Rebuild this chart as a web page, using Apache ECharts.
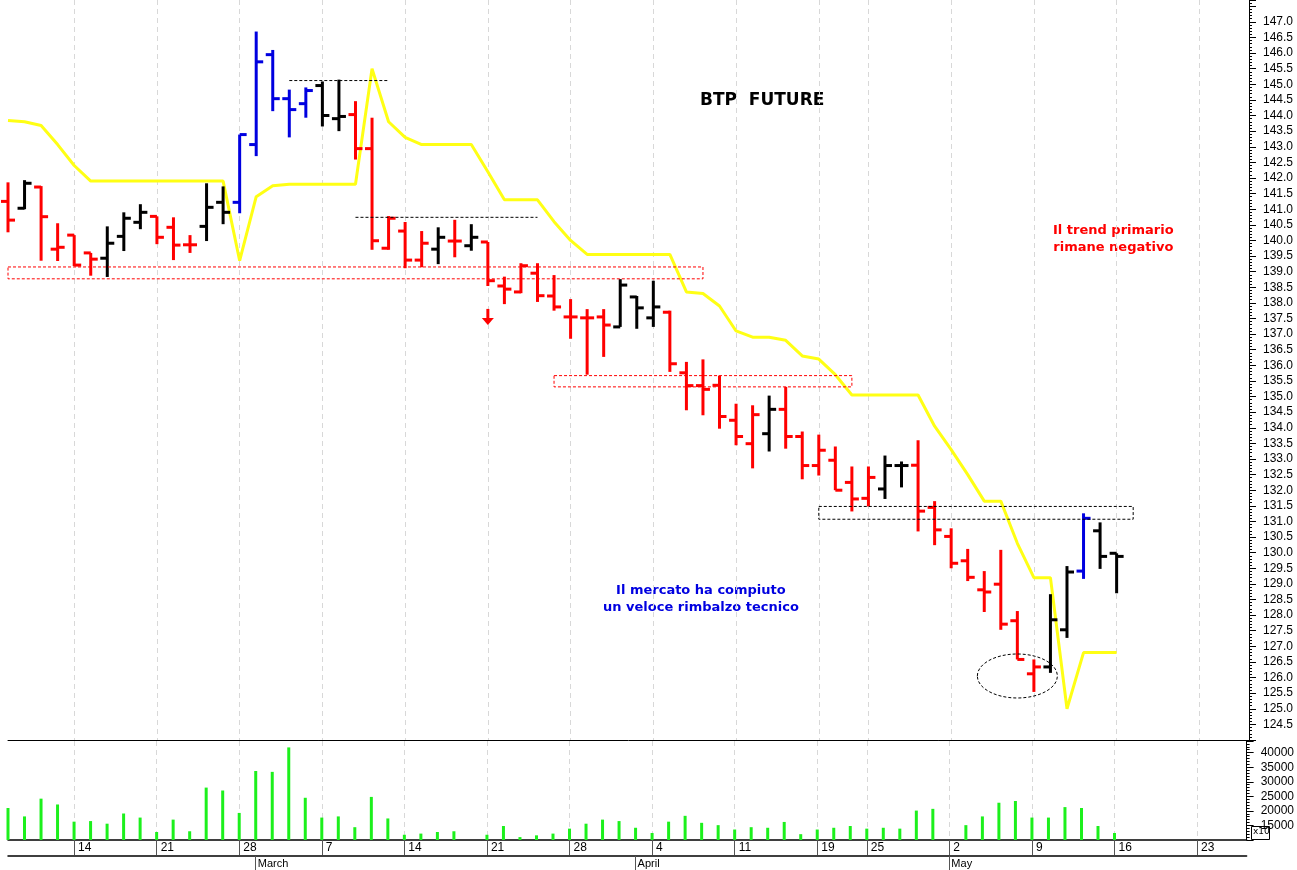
<!DOCTYPE html>
<html lang="en" style="height: 100%">
<head><meta charset="utf-8" /></head>
<body style="margin:0;background:#fff">
<div id="container" style="width:1297px;height:870px"></div>
<script src="https://cdn.jsdelivr.net/npm/echarts@6/dist/echarts.min.js"></script>
<script>
// bar data, one entry per trading day
var opens  = [141.25,141.03,141.71,139.72,140.17,139.6,139.43,140.13,140.58,140.77,140.42,139.86,140.45,141.22,
  141.22,143.07,145.95,144.54,144.38,144.96,143.9,144.03,142.94,139.75,140.3,139.37,139.72,139.98,139.83,139.95,
  138.54,138.35,138.95,138.22,137.55,137.52,137.55,137.23,138.19,137.52,137.7,135.76,135.35,135.36,134.24,133.49,
  133.81,134.59,133.72,132.79,132.96,132.25,131.74,132.04,132.79,132.8,131.45,130.52,129.74,128.81,128.99,127.82,
  126.12,126.34,127.53,129.41,130.7,129.98];
var highs  = [141.86,141.93,141.74,140.55,140.17,139.6,140.45,140.9,141.16,140.77,140.74,140.17,141.83,141.73,
  143.39,146.69,146.1,144.83,144.9,145.09,145.15,144.46,143.93,140.78,140.59,140.3,140.42,140.66,140.52,139.95,
  138.84,139.27,139.27,138.89,138.12,137.8,137.8,138.76,138.22,138.71,137.75,136.11,136.19,135.67,134.77,134.72,
  135.03,135.31,133.88,133.78,133.4,132.76,132.76,133.11,132.92,133.6,131.65,130.78,130.12,129.41,130.09,128.13,
  126.58,128.67,129.57,131.26,130.97,129.98];
var lows   = [140.26,141.0,139.35,139.34,139.18,138.87,138.83,139.66,140.36,139.88,139.37,139.6,139.98,140.52,
  140.87,142.7,144.14,143.3,143.93,143.65,143.5,142.59,139.7,139.7,139.11,139.14,139.24,139.46,139.67,138.54,
  137.96,138.31,138.03,137.75,136.85,135.7,136.27,137.23,137.17,137.23,135.79,134.56,134.4,133.97,133.44,132.7,
  133.24,133.33,132.35,132.47,132.0,131.32,131.48,131.72,132.09,130.68,130.24,129.5,129.09,128.1,127.53,126.58,
  125.54,126.15,127.27,129.16,129.48,128.7];
var closes = [140.65,141.83,140.76,139.78,139.21,139.4,139.91,140.71,140.9,140.1,139.85,139.86,141.06,140.9,
  143.39,145.72,144.54,144.19,144.8,144.0,143.97,142.94,139.99,140.71,139.37,139.91,140.1,139.98,140.1,138.71,
  138.44,139.19,138.23,137.87,137.55,137.52,137.29,138.57,137.84,137.87,136.05,135.35,135.23,134.36,133.72,134.42,
  134.59,133.72,132.79,133.28,132.0,131.72,132.41,132.79,132.79,131.33,130.73,129.66,129.21,128.74,127.71,126.58,
  126.34,127.85,129.38,131.1,129.88,129.88];
var barColor = "RKRRRRKKKRRRKKBBBBBKKRRRRRKRKRRRRRRRRKKKRRRRRRKRRRRRRKKRRRRRRRRKKBKK";
var trendLine = [143.84,143.8,143.68,143.07,142.4,141.9,141.9,141.9,141.9,141.9,141.9,141.9,141.9,141.9,
  139.35,141.4,141.75,141.8,141.8,141.8,141.8,141.8,145.5,143.8,143.3,143.07,143.07,143.07,143.07,142.2,
  141.3,141.3,141.3,140.6,140.0,139.55,139.55,139.55,139.55,139.55,139.55,138.35,138.3,137.9,137.1,136.9,
  136.9,136.8,136.3,136.2,135.7,135.05,135.05,135.05,135.05,135.05,134.05,133.3,132.5,131.65,131.65,130.3,
  129.2,129.2,125.0,126.8,126.8,126.8];
var volumes = [21000,18100,24200,22200,16300,16500,15600,19100,17700,12750,17000,13000,28000,27000,19300,
  33700,33400,41800,24500,17700,18100,14400,24800,17400,11800,12200,12750,13000,9500,11800,14800,11000,11600,
  12200,13900,15600,17000,16500,14200,12400,16300,18300,15900,15100,13600,14400,14200,16200,12000,13600,14200,
  14800,13900,14200,13900,20100,20700,10000,15100,18100,22800,23400,17700,17700,21300,21000,14800,12400];
var nSlots = 76;
var dayTicks = {4:"14",9:"21",14:"28",19:"7",24:"14",29:"21",34:"28",39:"4",44:"11",49:"19",52:"25",57:"2",62:"9",67:"16",72:"23"};
var monthTicks = {15:"March",38:"April",57:"May"};

var cats = [];
for (var i = 0; i < nSlots; i++) cats.push(String(i));
var ohlc = opens.map(function (o, i) { return [i, o, highs[i], lows[i], closes[i]]; });
var colMap = { R: "#ff0000", K: "#000000", B: "#0000e0" };

var chart = echarts.init(document.getElementById("container"), null, { renderer: "canvas" });
var font = "DejaVu Sans";
var axFont = "Liberation Sans";
var dashGrid = { show: true, interval: function (i) { return dayTicks[i] !== undefined; },
  lineStyle: { color: "#d8d8d8", type: [5, 4], width: 1 } };

function renderBar(params, api) {
  var i = api.value(0);
  var x = api.coord([i, api.value(2)])[0];
  var yH = api.coord([i, api.value(2)])[1], yL = api.coord([i, api.value(3)])[1];
  var yO = api.coord([i, api.value(1)])[1], yC = api.coord([i, api.value(4)])[1];
  var c = colMap[barColor[i]];
  var st = { stroke: c, lineWidth: 3 };
  return { type: "group", children: [
    { type: "line", shape: { x1: x, y1: yH, x2: x, y2: yL }, style: st },
    { type: "line", shape: { x1: x - 7, y1: yO, x2: x, y2: yO }, style: st },
    { type: "line", shape: { x1: x, y1: yC, x2: x + 7, y2: yC }, style: st }
  ] };
}

function renderNotes(params, api) {
  function p(x, y) { return api.coord([x, y]); }
  function box(x1, y1, x2, y2, c) {
    var a = p(x1, y1), b = p(x2, y2);
    return { type: "rect", shape: { x: a[0], y: a[1], width: b[0] - a[0], height: b[1] - a[1] },
      style: { fill: null, stroke: c, lineWidth: 1, lineDash: [3, 2] } };
  }
  function hline(x1, x2, y) {
    var a = p(x1, y), b = p(x2, y);
    return { type: "line", shape: { x1: a[0], y1: a[1], x2: b[0], y2: b[1] },
      style: { stroke: "#000", lineWidth: 1, lineDash: [3, 2] } };
  }
  var e = p(61, 126.05);
  var ar = p(28.9, 137.55);
  return { type: "group", children: [
    box(-0.5, 139.15, 41.7, 138.77, "#ff0000"),
    box(32.8, 135.67, 50.7, 135.31, "#ff0000"),
    box(48.7, 131.48, 68.4, 131.07, "#000"),
    hline(16.9, 22.9, 145.12),
    hline(20.9, 31.8, 140.74),
    { type: "ellipse", shape: { cx: e[0], cy: e[1], rx: 40, ry: 22 },
      style: { fill: null, stroke: "#000", lineWidth: 1, lineDash: [3, 2] } },
    { type: "line", shape: { x1: ar[0], y1: ar[1] - 8, x2: ar[0], y2: ar[1] + 4 }, style: { stroke: "#ff0000", lineWidth: 3 } },
    { type: "polygon", shape: { points: [[ar[0] - 6, ar[1] + 1], [ar[0] + 6, ar[1] + 1], [ar[0], ar[1] + 8]] }, style: { fill: "#ff0000" } }
  ] };
}

function rightAxis(grid, min, max, step, show) {
  return { type: "value", gridIndex: grid, position: "right", min: min, max: max, interval: step,
    axisLine: { show: true, lineStyle: { color: "#000" } },
    axisTick: { show: true, length: 7, lineStyle: { color: "#000" } },
    minorTick: { show: true, splitNumber: 5, length: 3, lineStyle: { color: "#000" } },
    splitLine: { show: false }, minorSplitLine: { show: false },
    axisLabel: { margin: 14, fontSize: 12, color: "#000", fontFamily: axFont, formatter: show } };
}

var option = {
  animation: false,
  backgroundColor: "#fff",
  textStyle: { fontFamily: font },
  grid: [
    { left: 8, top: 0, width: 1241, height: 740 },
    { left: 8, top: 741, width: 1241, height: 99 }
  ],
  xAxis: [
    { type: "category", gridIndex: 0, data: cats, boundaryGap: false,
      axisLine: { lineStyle: { color: "#000", width: 1 } }, axisTick: { show: false }, axisLabel: { show: false },
      splitLine: dashGrid },
    { type: "category", gridIndex: 1, data: cats, boundaryGap: false,
      axisLine: { lineStyle: { color: "#000", width: 1.5 } },
      axisTick: { show: true, length: 15, interval: function (i) { return dayTicks[i] !== undefined; }, lineStyle: { color: "#555" } },
      axisLabel: { interval: function (i) { return dayTicks[i] !== undefined; }, formatter: function (v) { return dayTicks[v]; },
        align: "left", padding: [0, 0, 0, 4], margin: 2, fontSize: 12, color: "#000", fontFamily: axFont },
      splitLine: dashGrid },
    { type: "category", gridIndex: 1, data: cats, boundaryGap: false, position: "bottom", offset: 16,
      axisLine: { lineStyle: { color: "#000", width: 1.5 } },
      axisTick: { show: true, length: 15, interval: function (i) { return monthTicks[i] !== undefined; }, lineStyle: { color: "#555" } },
      axisLabel: { interval: function (i) { return monthTicks[i] !== undefined; }, formatter: function (v) { return monthTicks[v]; },
        align: "left", padding: [0, 0, 0, 2], margin: 2, fontSize: 11, color: "#000", fontFamily: axFont } }
  ],
  yAxis: [
    rightAxis(0, 124, 147.7, 0.5, function (v) { return v >= 124.5 && v <= 147 ? v.toFixed(1) : ""; }),
    rightAxis(1, 10000, 44000, 5000, function (v) { return v >= 15000 && v <= 40000 ? String(v) : ""; })
  ],
  series: [
    { type: "line", xAxisIndex: 0, yAxisIndex: 0, data: trendLine, symbol: "none",
      lineStyle: { color: "#ffff14", width: 3 }, z: 2 },
    { type: "custom", xAxisIndex: 0, yAxisIndex: 0, data: ohlc, renderItem: renderBar, clip: false, z: 3,
      encode: { x: 0, y: [1, 2, 3, 4] } },
    { type: "custom", xAxisIndex: 0, yAxisIndex: 0, data: [[0, 130]], renderItem: renderNotes, clip: false, z: 4 },
    { type: "bar", xAxisIndex: 1, yAxisIndex: 1, data: volumes, barWidth: 3, itemStyle: { color: "#1cf01c" } }
  ],
  graphic: [
    { type: "text", left: 700, top: 92, style: { text: "BTP  FUTURE", font: "bold 17px " + font, fill: "#000" } },
    { type: "text", left: 1053, top: 222, style: { text: "Il trend primario\nrimane negativo", font: "bold 13px " + font,
      fill: "#ff0000", textAlign: "center", lineHeight: 17 } },
    { type: "text", left: 603, top: 582, style: { text: "Il mercato ha compiuto\nun veloce rimbalzo tecnico", font: "bold 13px " + font,
      fill: "#0000e0", textAlign: "center", lineHeight: 17 } },
    { type: "rect", left: 1251, top: 826, shape: { width: 18, height: 13 }, style: { fill: "#fff", stroke: "#000" } },
    { type: "text", left: 1253, top: 827, style: { text: "x10", font: "9px " + font, fill: "#000" } }
  ]
};
chart.setOption(option);
window.addEventListener("resize", chart.resize);
</script>
</body>
</html>
